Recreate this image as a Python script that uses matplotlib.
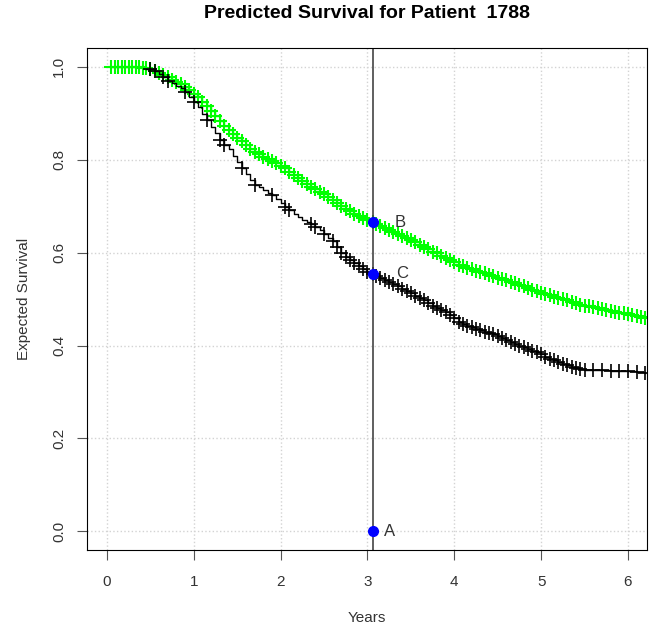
import numpy as np
import matplotlib.pyplot as plt

plt.rcParams['font.family'] = ['Liberation Sans', 'DejaVu Sans']

# green curve
green_t = [0.05, 0.09, 0.13, 0.17, 0.21, 0.25, 0.29, 0.33, 0.37, 0.41, 0.45, 0.50,
           0.55, 0.60, 0.65, 0.70, 0.75, 0.80, 0.85, 0.90, 0.95, 1.00, 1.05, 1.10,
           1.15, 1.20, 1.25, 1.30, 1.35, 1.40, 1.45, 1.50, 1.55, 1.60, 1.65, 1.70,
           1.75, 1.80, 1.85, 1.90, 1.95, 2.00, 2.05, 2.10, 2.15, 2.20, 2.25, 2.30,
           2.35, 2.40, 2.45, 2.50, 2.55, 2.60, 2.65, 2.70, 2.75, 2.80, 2.85, 2.90,
           2.95, 3.00, 3.06, 3.10, 3.15, 3.20, 3.25, 3.30, 3.35, 3.40, 3.45, 3.50,
           3.55, 3.60, 3.65, 3.70, 3.75, 3.80, 3.85, 3.90, 3.95, 4.00, 4.05, 4.10,
           4.15, 4.20, 4.25, 4.30, 4.35, 4.40, 4.45, 4.50, 4.55, 4.60, 4.65, 4.70,
           4.75, 4.80, 4.85, 4.90, 4.95, 5.00, 5.05, 5.10, 5.15, 5.20, 5.25, 5.30,
           5.35, 5.40, 5.45, 5.50, 5.55, 5.60, 5.65, 5.70, 5.75, 5.80, 5.85, 5.90,
           5.95, 6.00, 6.05, 6.10, 6.15, 6.20]
green_s = [1.000, 1.000, 1.000, 1.000, 1.000, 1.000, 1.000, 0.999, 0.999, 0.998, 0.997, 0.995,
           0.991, 0.987, 0.982, 0.978, 0.972, 0.968, 0.962, 0.957, 0.950, 0.942, 0.935, 0.925,
           0.916, 0.905, 0.893, 0.883, 0.873, 0.864, 0.855, 0.847, 0.839, 0.831, 0.823, 0.816,
           0.811, 0.806, 0.801, 0.796, 0.792, 0.787, 0.781, 0.774, 0.767, 0.760, 0.754, 0.748,
           0.742, 0.737, 0.731, 0.726, 0.720, 0.714, 0.707, 0.700, 0.694, 0.689, 0.684, 0.679,
           0.675, 0.670, 0.665, 0.661, 0.657, 0.652, 0.648, 0.644, 0.640, 0.635, 0.631, 0.627,
           0.622, 0.617, 0.612, 0.607, 0.602, 0.598, 0.593, 0.588, 0.584, 0.579, 0.574, 0.570,
           0.567, 0.564, 0.561, 0.558, 0.555, 0.552, 0.549, 0.546, 0.543, 0.540, 0.537, 0.534,
           0.530, 0.527, 0.524, 0.520, 0.517, 0.514, 0.511, 0.508, 0.505, 0.502, 0.499, 0.497,
           0.494, 0.491, 0.488, 0.486, 0.484, 0.482, 0.480, 0.478, 0.476, 0.474, 0.472, 0.470,
           0.469, 0.467, 0.465, 0.463, 0.461, 0.460]

# black curve
black_t = [0.45, 0.50, 0.55, 0.60, 0.65, 0.70, 0.75, 0.80, 0.85, 0.90, 0.95, 1.00,
           1.05, 1.10, 1.15, 1.20, 1.25, 1.30, 1.35, 1.40, 1.45, 1.50, 1.55, 1.60,
           1.65, 1.70, 1.75, 1.80, 1.85, 1.90, 1.95, 2.00, 2.05, 2.10, 2.15, 2.20,
           2.25, 2.30, 2.35, 2.40, 2.45, 2.50, 2.55, 2.60, 2.65, 2.70, 2.75, 2.80,
           2.85, 2.90, 2.95, 3.00, 3.06, 3.10, 3.15, 3.20, 3.25, 3.30, 3.35, 3.40,
           3.45, 3.50, 3.55, 3.60, 3.65, 3.70, 3.75, 3.80, 3.85, 3.90, 3.95, 4.00,
           4.05, 4.10, 4.15, 4.20, 4.25, 4.30, 4.35, 4.40, 4.45, 4.50, 4.55, 4.60,
           4.65, 4.70, 4.75, 4.80, 4.85, 4.90, 4.95, 5.00, 5.05, 5.10, 5.15, 5.20,
           5.25, 5.30, 5.35, 5.40, 5.45, 5.50, 5.60, 5.70, 5.80, 5.90, 6.00, 6.10, 6.20]
black_s = [0.996, 0.994, 0.990, 0.985, 0.977, 0.970, 0.965, 0.959, 0.953, 0.945, 0.935, 0.924,
           0.913, 0.899, 0.886, 0.871, 0.857, 0.843, 0.832, 0.822, 0.808, 0.795, 0.782, 0.770,
           0.757, 0.746, 0.740, 0.734, 0.729, 0.723, 0.715, 0.707, 0.699, 0.691, 0.684, 0.677,
           0.671, 0.666, 0.661, 0.655, 0.648, 0.640, 0.632, 0.624, 0.613, 0.600, 0.590, 0.583,
           0.577, 0.571, 0.565, 0.559, 0.554, 0.549, 0.545, 0.540, 0.536, 0.532, 0.527, 0.522,
           0.517, 0.512, 0.507, 0.502, 0.497, 0.491, 0.486, 0.480, 0.476, 0.472, 0.466, 0.459,
           0.451, 0.446, 0.442, 0.439, 0.436, 0.433, 0.430, 0.427, 0.424, 0.420, 0.416, 0.412,
           0.408, 0.404, 0.400, 0.396, 0.392, 0.388, 0.385, 0.381, 0.376, 0.372, 0.368, 0.364,
           0.360, 0.357, 0.354, 0.351, 0.349, 0.348, 0.347, 0.347, 0.346, 0.346, 0.345, 0.342, 0.340]
# censor marks on the black curve before 2.6 years are sparse
black_early_marks = [0.50, 0.55, 0.65, 0.70, 0.90, 1.00, 1.15, 1.30, 1.35, 1.55,
                     1.70, 1.90, 2.05, 2.10, 2.35, 2.40, 2.50]

t_mark = 3.06
point_y = [0.0, 0.665, 0.554]
point_lab = ['A', 'B', 'C']
lab_dx = [0.13, 0.25, 0.27]

fig = plt.figure(figsize=(6.49, 6.29), dpi=100)
ax = fig.add_axes([0.134, 0.1256, 0.863, 0.798])

ax.grid(True, color='lightgray', linestyle=':', linewidth=1)
ax.set_axisbelow(True)

ax.plot(green_t, green_s, color='#00ff00', drawstyle='steps-post', lw=1,
        marker='+', markersize=10, markeredgewidth=1.5)
black_mask = [t >= 2.6 or t in black_early_marks for t in black_t]
ax.plot(black_t, black_s, color='black', drawstyle='steps-post', lw=1,
        marker='+', markersize=10, markeredgewidth=1.2, markevery=black_mask)

ax.axvline(t_mark, color='#444444', lw=1.2)
ax.plot([t_mark] * 3, point_y, 'o', color='blue', markersize=7, zorder=5)
for y, lab, dx in zip(point_y, point_lab, lab_dx):
    ax.text(t_mark + dx, y, lab, fontsize=12, color='#333333', va='center', ha='left')

ax.set_xlim(-0.23, 6.22)
ax.set_ylim(-0.04, 1.04)
ax.set_xticks(range(7))
ax.set_yticks([0, 0.2, 0.4, 0.6, 0.8, 1.0])
ax.set_yticklabels(['0.0', '0.2', '0.4', '0.6', '0.8', '1.0'], rotation=90, va='center')
ax.tick_params(length=7, color='#555555', labelcolor='#333333', labelsize=11)
ax.tick_params(axis='x', pad=11)
ax.tick_params(axis='y', pad=8)
ax.set_xlabel('Years', fontsize=11, color='#333333', labelpad=16)
ax.set_ylabel('Expected Survival', fontsize=11, color='#333333', labelpad=15)

fig.text(0.5655, 1 - 14 / 629, 'Predicted Survival for Patient  1788', ha='center', va='center',
         fontsize=14, fontweight='bold')

fig.savefig('out.png', dpi=100)
